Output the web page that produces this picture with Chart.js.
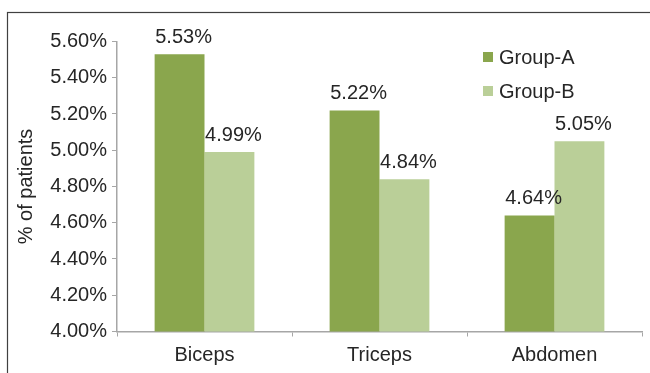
<!DOCTYPE html>
<html>
<head>
<meta charset="utf-8">
<title>% of patients by site</title>
<script src="https://cdn.jsdelivr.net/npm/chart.js@4.4.1/dist/chart.umd.min.js"></script>
<style>
  html, body { margin: 0; padding: 0; background: #ffffff; }
  #wrap { width: 650px; height: 373px; position: relative; }
</style>
</head>
<body>
<div id="wrap"><canvas id="chart" width="650" height="373"></canvas></div>
<script>
// Injection sites and the share of patients in each group
const categories = ['Biceps', 'Triceps', 'Abdomen'];
const groupA = [5.53, 5.22, 4.64];
const groupB = [4.99, 4.84, 5.05];
const seriesNames = ['Group-A', 'Group-B'];
const yTicks = [4.0, 4.2, 4.4, 4.6, 4.8, 5.0, 5.2, 5.4, 5.6];

const FONT = "'Liberation Sans', Arial, Helvetica, sans-serif";
const TEXT = '#262626';
const AXIS = '#a6a6a6';
const COLORS = ['#8aa64d', '#bacf98'];

const pct = v => Number(v).toFixed(2) + '%';

// Outer frame of the figure
const framePlugin = {
  id: 'frame',
  beforeDraw(chart) {
    const c = chart.ctx;
    c.save();
    c.fillStyle = '#ffffff';
    c.fillRect(0, 0, chart.width, chart.height);
    c.strokeStyle = '#404040';
    c.lineWidth = 1.2;
    c.strokeRect(7.5, 12.5, chart.width + 20, chart.height + 20);
    c.restore();
  }
};

// Value labels above each bar
const valueLabels = {
  id: 'valueLabels',
  afterDatasetsDraw(chart) {
    const c = chart.ctx;
    c.save();
    c.font = '20px ' + FONT;
    c.fillStyle = TEXT;
    c.textAlign = 'center';
    c.textBaseline = 'middle';
    chart.data.datasets.forEach((ds, i) => {
      chart.getDatasetMeta(i).data.forEach((bar, j) => {
        c.fillText(pct(ds.data[j]), bar.x + 4, bar.y - 17);
      });
    });
    c.restore();
  }
};

// Legend inside the plot area, top right
const insideLegend = {
  id: 'insideLegend',
  afterDraw(chart) {
    const c = chart.ctx;
    const area = chart.chartArea;
    const x0 = area.right - 159;
    let y = area.top + 15.5;
    c.save();
    c.font = '20px ' + FONT;
    c.textAlign = 'left';
    c.textBaseline = 'middle';
    chart.data.datasets.forEach(ds => {
      c.fillStyle = ds.backgroundColor;
      c.fillRect(x0, y - 5, 10, 10);
      c.fillStyle = TEXT;
      c.fillText(ds.label, x0 + 16, y + 1);
      y += 34;
    });
    c.restore();
  }
};

new Chart(document.getElementById('chart'), {
  type: 'bar',
  data: {
    labels: categories,
    datasets: [
      { label: seriesNames[0], data: groupA, backgroundColor: COLORS[0] },
      { label: seriesNames[1], data: groupB, backgroundColor: COLORS[1] }
    ]
  },
  options: {
    responsive: false,
    animation: false,
    devicePixelRatio: 1,
    layout: { padding: { left: 14, right: 8, top: 41.5, bottom: 0 } },
    datasets: { bar: { categoryPercentage: 0.57, barPercentage: 1.0, borderWidth: 0 } },
    plugins: {
      legend: { display: false },
      tooltip: { enabled: false }
    },
    scales: {
      x: {
        grid: { display: true, drawOnChartArea: false, offset: true, color: AXIS, tickLength: 5, lineWidth: 1 },
        border: { color: AXIS, width: 1.5 },
        ticks: { color: TEXT, font: { family: FONT, size: 20 }, padding: 7 },
        afterFit(scale) { scale.height = 41.5; }
      },
      y: {
        min: 4.0,
        max: 5.6,
        afterBuildTicks(scale) { scale.ticks = yTicks.map(v => ({ value: v })); },
        grid: { display: true, drawOnChartArea: false, color: AXIS, tickLength: 5, lineWidth: 1 },
        border: { color: AXIS, width: 1.5 },
        ticks: { color: TEXT, font: { family: FONT, size: 20 }, padding: 5, callback: v => pct(v) },
        title: { display: true, text: '% of patients', color: TEXT, font: { family: FONT, size: 20 }, padding: 0 },
        afterFit(scale) { scale.width = 103; }
      }
    }
  },
  plugins: [framePlugin, valueLabels, insideLegend]
});
</script>
</body>
</html>
